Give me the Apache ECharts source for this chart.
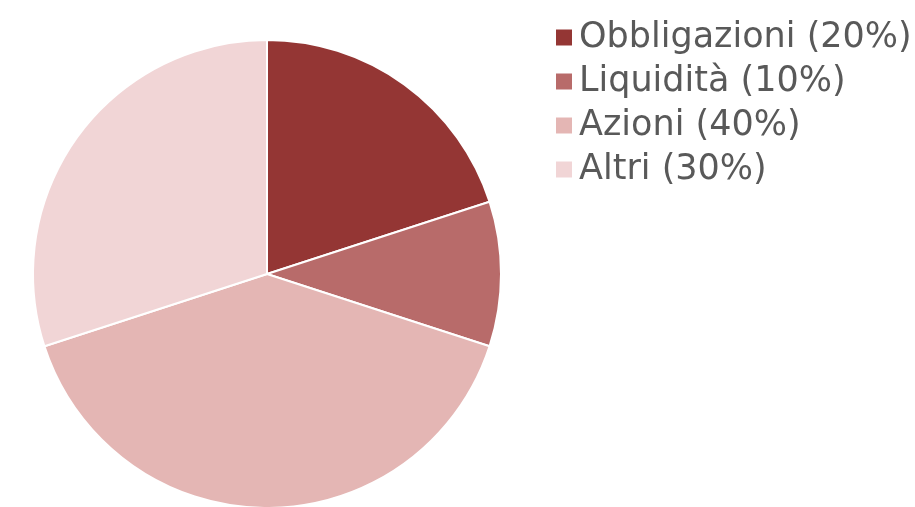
<!DOCTYPE html>
<html><head><meta charset="utf-8">
<script src="https://cdn.jsdelivr.net/npm/echarts@6/dist/echarts.min.js"></script>
<style>html,body{margin:0;padding:0;background:#fff}#c{width:915px;height:507px}</style>
</head><body><div id="c"></div>
<script>
const categories = ["Obbligazioni", "Liquidità", "Azioni", "Altri"];
const values = [20, 10, 40, 30];
const colors = ["#943634", "#B86B6A", "#E4B6B4", "#F1D5D6"];

const chart = echarts.init(document.getElementById('c'), null, {renderer: 'canvas'});
chart.setOption({
  animation: false,
  color: colors,
  legend: {
    orient: 'vertical',
    left: 549,
    top: 15,
    itemWidth: 18,
    itemHeight: 18,
    itemGap: 9,
    icon: 'rect',
    formatter: function (name) {
      const i = categories.indexOf(name);
      return name + ' (' + values[i] + '%)';
    },
    textStyle: {fontFamily: 'DejaVu Sans', fontSize: 35, lineHeight: 34, color: '#595959', padding: [0, 0, 0, 1]}
  },
  series: [{
    type: 'pie',
    center: [267, 274],
    radius: 234,
    startAngle: 90,
    clockwise: true,
    label: {show: false},
    labelLine: {show: false},
    itemStyle: {borderColor: '#fff', borderWidth: 2},
    emphasis: {disabled: true},
    data: categories.map((c, i) => ({name: c, value: values[i]}))
  }]
});
</script></body></html>
